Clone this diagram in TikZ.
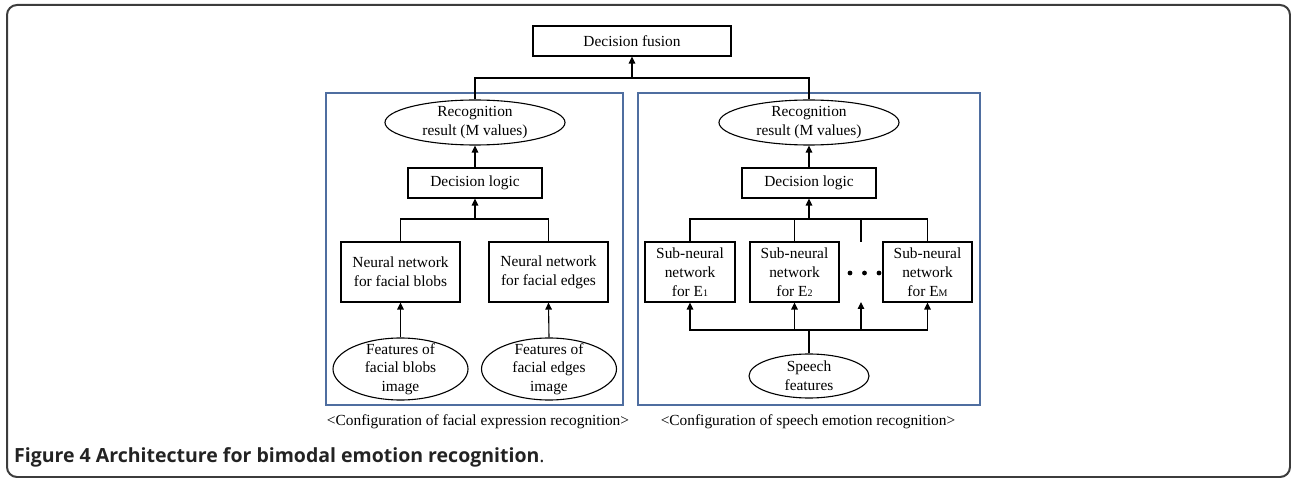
\documentclass[tikz,border=0pt]{standalone}
\usepackage{fontspec}
\setmainfont{Liberation Serif}
\newfontfamily\capfont{Open Sans}
\usetikzlibrary{arrows.meta,shapes.geometric}
\definecolor{framegray}{RGB}{60,60,60}
\definecolor{panelblue}{RGB}{79,110,160}
\definecolor{capgray}{RGB}{35,35,35}
\begin{document}
\begin{tikzpicture}[x=1pt,y=-1pt,
  every node/.style={font=\fontsize{15.4}{19}\selectfont},
  blk/.style={draw, line width=1.1pt, inner sep=0pt, align=center},
  ell/.style={draw, ellipse, line width=1.1pt, inner sep=0pt},
  txt/.style={align=center, inner sep=0pt},
  conn/.style={line width=1.1pt},
  arr/.style={line width=1.1pt, -{Triangle[length=7pt,width=6.5pt]}},
  panel/.style={draw=panelblue, line width=1.3pt, inner sep=0pt}]
\useasboundingbox (0,0) rectangle (1291,478);
\draw[framegray, line width=2pt, rounded corners=10pt] (7,5) rectangle (1290,477);

% panels
\node[panel, minimum width=297, minimum height=312] (pL) at (474.5,249) {};
\node[panel, minimum width=342, minimum height=312] (pR) at (809,249) {};

% top
\node[blk, minimum width=198, minimum height=30] (fus) at (632,41) {Decision fusion};

% left panel
\node[ell, minimum width=180, minimum height=45] (rL) at (475,122.5) {};
\node[txt] at (rL) {Recognition\\result (M values)};
\node[blk, minimum width=134, minimum height=30] (dL) at (475,183) {Decision logic};
\node[blk, minimum width=119, minimum height=60] (nb) at (400.5,272) {Neural network\\for facial blobs};
\node[blk, minimum width=119, minimum height=60] (ne) at (548.5,272) {Neural network\\for facial edges};
\node[ell, minimum width=135, minimum height=62] (fb) at (400.5,369) {};
\node[txt, font=\fontsize{15.4}{18.5}\selectfont] at (fb) {Features of\\facial blobs\\image};
\node[ell, minimum width=135, minimum height=62] (fe) at (549,369) {};
\node[txt, font=\fontsize{15.4}{18.5}\selectfont] at (fe) {Features of\\facial edges\\image};

% right panel
\node[ell, minimum width=180, minimum height=45] (rR) at (809,122.5) {};
\node[txt] at (rR) {Recognition\\result (M values)};
\node[blk, minimum width=134, minimum height=30] (dR) at (809,183) {Decision logic};
\node[blk, minimum width=90, minimum height=60] (s1) at (690,272) {Sub-neural\\network\\for E{\fontsize{10}{10}\selectfont 1}};
\node[blk, minimum width=89, minimum height=60] (s2) at (794.5,272) {Sub-neural\\network\\for E{\fontsize{10}{10}\selectfont 2}};
\node[blk, minimum width=89, minimum height=60] (sM) at (927.5,272) {Sub-neural\\network\\for E{\fontsize{10}{10}\selectfont M}};
\fill (850,273) circle (2.4);
\fill (864.5,273) circle (2.4);
\fill (879,273) circle (2.4);
\node[ell, minimum width=120, minimum height=44] (sp) at (809,376) {};
\node[txt] at (sp) {Speech\\features};

% junction coordinates
\coordinate (hT) at (632,78);
\coordinate (hL) at (475,219);
\coordinate (hR) at (809,219);
\coordinate (hB) at (809,330);
\coordinate (d3top) at (861,242);
\coordinate (d3bot) at (861,302);

% connectors top
\draw[conn] (rL.north) |- (hT) -| (rR.north);
\draw[arr] (hT) -- (fus.south);

% connectors left
\draw[arr] (dL.north) -- (rL.south);
\draw[conn] (nb.north) |- (hL) -| (ne.north);
\draw[arr] (hL) -- (dL.south);
\draw[arr] (fb.north) -- (nb.south);
\draw[arr] (fe.north) -- (ne.south);

% connectors right
\draw[arr] (dR.north) -- (rR.south);
\draw[conn] (s1.north) |- (hR) -| (sM.north);
\draw[conn] (s2.north) -- (s2.north |- hR);
\draw[conn] (d3top) -- (d3top |- hR);
\draw[arr] (hR) -- (dR.south);
\draw[conn] (sp.north) -- (hB);
\draw[arr] (hB) -| (s1.south);
\draw[arr] (hB) -| (sM.south);
\draw[arr] (s2.south |- hB) -- (s2.south);
\draw[arr] (d3bot |- hB) -- (d3bot);

% captions
\node[txt] (cL) at (478,422) {\textless Configuration of facial expression recognition\textgreater};
\node[txt] (cR) at (808,422) {\textless Configuration of speech emotion recognition\textgreater};
\node[anchor=base west, inner sep=0pt, text=capgray] (fig) at (14,462) {\capfont\fontsize{19.5}{24}\selectfont\bfseries Figure 4 Architecture for bimodal emotion recognition\mdseries.};
\end{tikzpicture}
\end{document}
